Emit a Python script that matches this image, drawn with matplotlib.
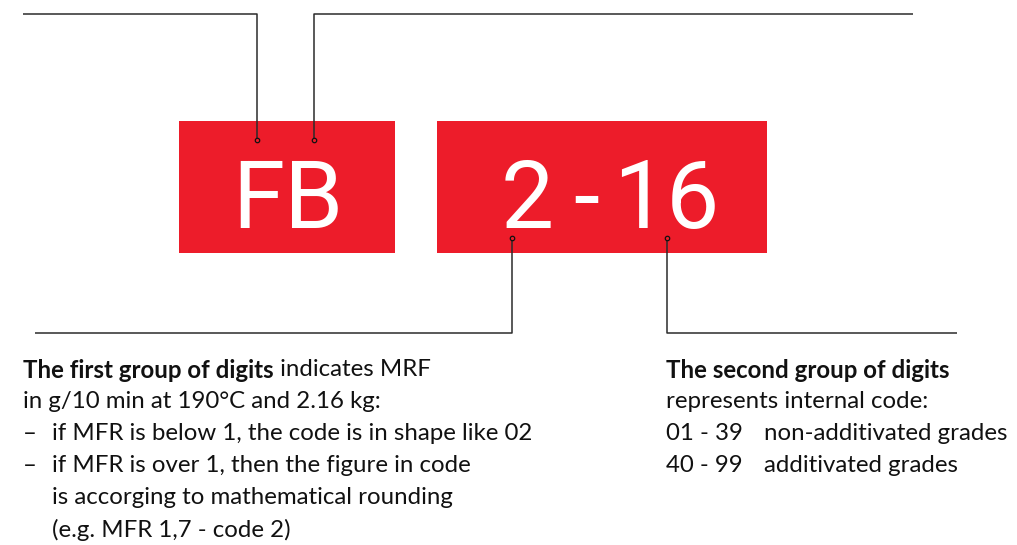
import matplotlib
matplotlib.use("Agg")
import matplotlib.pyplot as plt
from matplotlib.patches import Rectangle

W, H = 1017, 545
RED = "#ED1C2A"
LINE = "#2b2b2b"

code_parts = ["FB", "2", "-", "16"]
left_bold = "The first group of digits"
left_rest = " indicates MRF"
left_lines = ["in g/10 min at 190°C and 2.16 kg:"]
left_bullets = ["if MFR is below 1, the code is in shape like 02",
                "if MFR is over 1, then the figure in code",
                "is accorging to mathematical rounding",
                "(e.g. MFR 1,7 - code 2)"]
bullet_marks = ["–", "–", "", ""]
right_bold = "The second group of digits"
right_lines = ["represents internal code:"]
ranges = ["01 - 39", "40 - 99"]
range_desc = ["non-additivated grades", "additivated grades"]

fig = plt.figure(figsize=(W / 100, H / 100), dpi=100)
ax = fig.add_axes([0, 0, 1, 1])
ax.set_xlim(0, W)
ax.set_ylim(H, 0)
ax.axis("off")

# red boxes
ax.add_patch(Rectangle((179, 121), 216, 132, color=RED, lw=0))
ax.add_patch(Rectangle((437, 121), 330, 132, color=RED, lw=0))

big = dict(color="white", fontsize=68, family=["Roboto", "DejaVu Sans"],
           fontweight="normal", ha="center", va="baseline")
BASE = 228
ax.text(288, BASE, code_parts[0], **big)
ax.text(527, BASE, code_parts[1], **big)
ax.text(586, BASE, code_parts[2], **big)
ax.text(666, BASE, code_parts[3], **big)

# leader lines
lk = dict(color=LINE, lw=1.1, solid_capstyle="butt")
ax.plot([23, 257, 257], [14, 14, 140], **lk)
ax.plot([314, 314, 913], [140, 14, 14], **lk)
ax.plot([512, 512, 35], [238, 333, 333], **lk)
ax.plot([667, 667, 957], [238, 333, 333], **lk)
for (x, y) in [(257, 140), (314, 140), (512, 238), (667, 238)]:
    ax.plot([x], [y], marker="o", ms=3.2, mfc=RED, mec="#111111", mew=0.9)

FS = 17.3
fam = ["Lato", "DejaVu Sans"]
tk = dict(fontsize=FS, family=fam, color="#111111", va="center", ha="left")

fig.canvas.draw()
r = fig.canvas.get_renderer()

def inv_x(px):
    return ax.transData.inverted().transform((px, 0))[0]

t = ax.text(23, 370, left_bold, fontweight="bold", **tk)
bb = t.get_window_extent(r)
ax.text(inv_x(bb.x1), 370, left_rest, **tk)
y = 402
for s in left_lines:
    ax.text(23, y, s, **tk)
    y += 32
for m, s in zip(bullet_marks, left_bullets):
    if m:
        ax.text(23, y, m, **tk)
    ax.text(52, y, s, **tk)
    y += 32

ax.text(666, 370, right_bold, fontweight="bold", **tk)
y = 402
for s in right_lines:
    ax.text(666, y, s, **tk)
    y += 32
for a, b in zip(ranges, range_desc):
    ax.text(666, y, a, **tk)
    ax.text(764, y, b, **tk)
    y += 32

fig.savefig("out.png", dpi=100)
